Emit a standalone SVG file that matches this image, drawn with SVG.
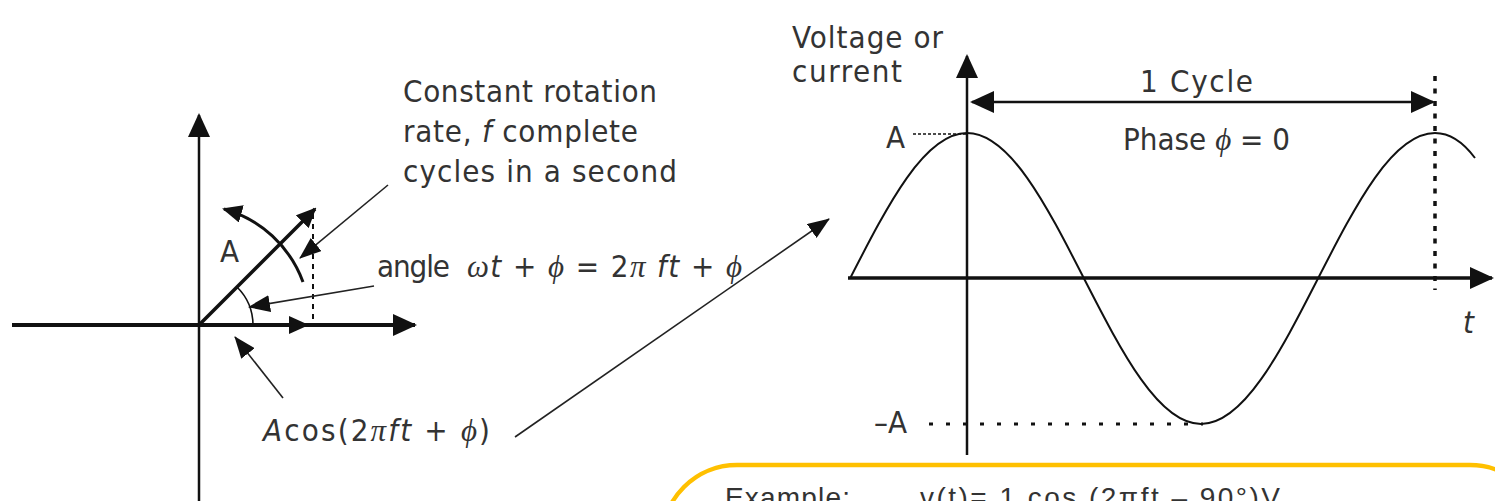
<svg xmlns="http://www.w3.org/2000/svg" width="1495" height="501" viewBox="0 0 1495 501">
<style>
.txt{font-family:"Liberation Sans Narrow","DejaVu Sans Condensed","Liberation Sans",Arial,sans-serif;font-size:31px;fill:#333}
.it{font-style:italic}
.gr{font-family:"Liberation Serif","DejaVu Serif","Times New Roman",serif;font-style:italic}
.ax{stroke:#111;fill:none}
.ptr{stroke:#222;stroke-width:1.6;fill:none}
.ex{font-family:"Liberation Sans",Arial,sans-serif;font-size:28px;fill:#333}
</style>
<defs>
<marker id="ah" viewBox="0 0 24 22" refX="22" refY="11" markerWidth="24" markerHeight="22" orient="auto-start-reverse" markerUnits="userSpaceOnUse"><path d="M0,0 L24,11 L0,22 z" fill="#111"/></marker>
<marker id="ahm" viewBox="0 0 20 18" refX="18" refY="9" markerWidth="20" markerHeight="18" orient="auto-start-reverse" markerUnits="userSpaceOnUse"><path d="M0,0 L20,9 L0,18 z" fill="#111"/></marker>
<marker id="ahs" viewBox="0 0 22 17" refX="21" refY="8.5" markerWidth="22" markerHeight="17" orient="auto" markerUnits="userSpaceOnUse"><path d="M0,0 L22,8.5 L0,17 z" fill="#111"/></marker>
</defs>

<g id="phasor-axes">
<line class="ax" x1="199" y1="501" x2="199" y2="115" stroke-width="2.5" marker-end="url(#ah)"/>
<line class="ax" x1="12" y1="325" x2="415" y2="325" stroke-width="4" marker-end="url(#ah)"/>
</g>

<g id="phasor">
<line class="ax" x1="199" y1="325" x2="315" y2="209" stroke-width="3.5" marker-end="url(#ahm)"/>
<line class="ax" x1="199" y1="325" x2="307" y2="325" stroke-width="4" marker-end="url(#ahm)"/>
<line class="ax" x1="313" y1="214" x2="313" y2="325" stroke-width="2" stroke-dasharray="5,5"/>
<path class="ax" d="M303,282 A118,118 0 0 0 224,209" stroke-width="3" marker-end="url(#ahm)"/>
<path class="ax" d="M253,325 A54,54 0 0 0 237,287" stroke-width="1.6"/>
<text class="txt" x="220" y="262" font-size="29">A</text>
</g>

<g id="label-rotation">
<text class="txt" x="403" y="102" textLength="254">Constant rotation</text>
<text class="txt" x="403" y="142" textLength="235">rate, <tspan class="it">f</tspan> complete</text>
<text class="txt" x="403" y="182" textLength="274">cycles in a second</text>
</g>

<g id="label-angle">
<text class="txt" x="377" y="277" textLength="73">angle</text>
<text class="txt" x="467" y="277" textLength="275"><tspan class="gr">ω</tspan><tspan class="it">t</tspan> + <tspan class="gr">ϕ</tspan> = 2<tspan class="gr">π</tspan> <tspan class="it">ft</tspan> + <tspan class="gr">ϕ</tspan></text>
</g>

<g id="label-acos">
<text class="txt" x="263" y="441" textLength="227"><tspan class="it">A</tspan>cos(2<tspan class="gr">π</tspan><tspan class="it">ft</tspan> + <tspan class="gr">ϕ</tspan>)</text>
</g>

<g id="connectors">
<line class="ptr" x1="388" y1="185" x2="300" y2="258" marker-end="url(#ahs)"/>
<line class="ptr" x1="374" y1="286" x2="249" y2="307" marker-end="url(#ahs)"/>
<line class="ptr" x1="283" y1="398" x2="235" y2="337" marker-end="url(#ahs)"/>
<line class="ptr" x1="515" y1="437" x2="829" y2="219" marker-end="url(#ahs)"/>
</g>

<g id="waveform-axes">
<line class="ax" x1="967" y1="455" x2="967" y2="56" stroke-width="2.5" marker-end="url(#ah)"/>
<line class="ax" x1="848" y1="278" x2="1492" y2="278" stroke-width="3.5" marker-end="url(#ah)"/>
<text class="txt" x="792" y="48" textLength="151">Voltage or</text>
<text class="txt" x="792" y="82" textLength="110">current</text>
<text class="txt it" x="1463" y="333">t</text>
</g>

<g id="cycle-marker">
<line class="ax" x1="972" y1="102" x2="1433" y2="102" stroke-width="2.5" marker-start="url(#ah)" marker-end="url(#ah)"/>
<line class="ax" x1="1435" y1="76" x2="1435" y2="290" stroke-width="3.5" stroke-dasharray="5,7.5"/>
<text class="txt" x="1140" y="92" textLength="113">1 Cycle</text>
<text class="txt" x="1123" y="150" textLength="167">Phase <tspan class="gr">ϕ</tspan> = 0</text>
</g>

<g id="amplitude-marks">
<line class="ax" x1="913" y1="134" x2="966" y2="134" stroke-width="1.5" stroke-dasharray="3,2"/>
<text class="txt" x="886" y="148">A</text>
<line class="ax" x1="929" y1="424" x2="1203" y2="424" stroke-width="3" stroke-dasharray="4,13"/>
<text class="txt" x="874" y="433">–A</text>
</g>

<g id="sine-wave">
<path class="ax" stroke="#333" stroke-width="2" d="M850,278.5 C888.2,204 924.6,133 967,133 C1009.4,133 1045.9,204 1084,278.5 C1122.2,353 1158.7,424 1201,424 C1243.4,424 1279.9,353 1318,278.5 C1356.2,204 1392.7,133 1435,133 C1448.3,133 1461.7,140.2 1475,158"/>
</g>

<g id="example-box">
<rect x="662" y="465" width="883" height="200" rx="75" ry="75" fill="none" stroke="#FFC000" stroke-width="4.5"/>
<text class="ex" x="725" y="507" textLength="125">Example:</text>
<text class="ex" x="920" y="507" textLength="360">v(t)= 1 cos (2πft – 90°)V</text>
</g>
</svg>
